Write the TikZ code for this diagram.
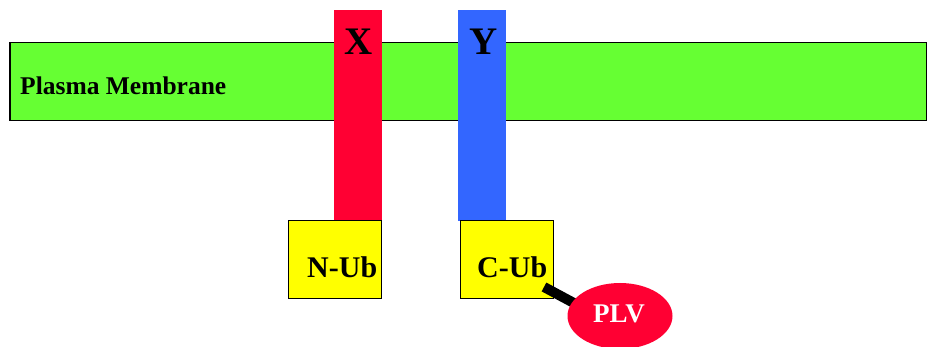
\documentclass[tikz,border=0pt]{standalone}
\usepackage{fontspec}
\setmainfont{Liberation Serif}
\usetikzlibrary{shapes.geometric}
\definecolor{memgreen}{HTML}{66FF33}
\definecolor{protred}{HTML}{FF0033}
\definecolor{protblue}{HTML}{3366FF}
\definecolor{ubyellow}{HTML}{FFFF00}
\tikzset{
  bar/.style={inner sep=0pt, minimum width=48pt, minimum height=211pt, anchor=north west},
  ubbox/.style={draw=black, line width=1.2pt, fill=ubyellow, inner sep=0pt, minimum width=93pt, minimum height=78pt, anchor=north west},
  lbl/.style={inner sep=0pt, anchor=base west, font=\bfseries},
}
\begin{document}
\begin{tikzpicture}[x=1pt,y=-1pt]
\useasboundingbox (0,0) rectangle (927,347);
\node[draw=black, line width=1.5pt, fill=memgreen, inner sep=0pt, minimum width=917pt, minimum height=78pt, anchor=north west] (mem) at (9,42) {};
\node[lbl, font=\bfseries\fontsize{25.5}{28}\selectfont] (memlbl) at (20,95) {Plasma Membrane};
\node[bar, fill=protred] (xbar) at (334,10) {};
\node[bar, fill=protblue] (ybar) at (458,10) {};
\node[inner sep=0pt, anchor=base, font=\bfseries\fontsize{39}{42}\selectfont] (xlbl) at (359,55) {X};
\node[inner sep=0pt, anchor=base, font=\bfseries\fontsize{39}{42}\selectfont] (ylbl) at (484,55) {Y};
\node[ubbox] (nub) at (288,220) {};
\node[ubbox] (cub) at (460,220) {};
\node[lbl, font=\bfseries\fontsize{30}{33}\selectfont] (nublbl) at (307,278) {N-Ub};
\node[lbl, font=\bfseries\fontsize{30}{33}\selectfont] (cublbl) at (477,278) {C-Ub};
\coordinate (l1) at (544,287);
\coordinate (l2) at (585,309);
\draw[line width=10pt] (l1) -- (l2);
\node[ellipse, fill=protred, inner sep=0pt, minimum width=105pt, minimum height=66pt] (plv) at (620,316) {};
\node[lbl, text=white, font=\bfseries\fontsize{27}{30}\selectfont] (plvlbl) at (593,323) {PLV};
\end{tikzpicture}
\end{document}
